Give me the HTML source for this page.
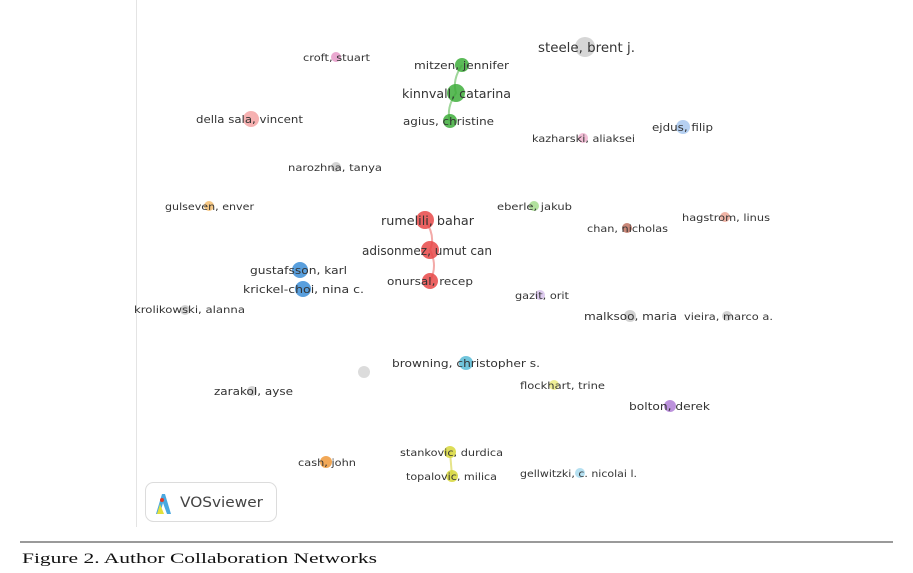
<!DOCTYPE html>
<html><head><meta charset="utf-8"><style>
html,body{margin:0;padding:0;background:#fff;width:913px;height:573px;overflow:hidden}
svg{display:block}
text{font-family:"DejaVu Sans","Liberation Sans",sans-serif;fill:#333}
</style></head><body>
<svg width="913" height="573" viewBox="0 0 913 573">
<line x1="136.5" y1="0" x2="136.5" y2="527" stroke="#e4e4e4" stroke-width="1"/>
<g stroke-width="2" fill="none">
<path d="M462 65 Q452 80 456 93 Q446 108 450 121" stroke="#9fd69a"/>
<path d="M425 220 Q436 236 430 250 Q438 266 430 281" stroke="#f3aaa8"/>
<line x1="450" y1="452" x2="452" y2="476" stroke="#e6e48a"/>
</g>
<g opacity="0.85">
<circle cx="336" cy="57" r="5" fill="#e79ac8"/>
<circle cx="462" cy="65" r="7" fill="#3fae3c"/>
<circle cx="585" cy="47" r="10" fill="#cfcfcf"/>
<circle cx="456" cy="93" r="9" fill="#3fae3c"/>
<circle cx="450" cy="121" r="7" fill="#3fae3c"/>
<circle cx="251" cy="119" r="8" fill="#f4a3a3"/>
<circle cx="583" cy="138" r="5" fill="#f0b3d0"/>
<circle cx="683" cy="127" r="7" fill="#a9c8ef"/>
<circle cx="336" cy="167" r="5" fill="#cccccc"/>
<circle cx="209" cy="206" r="5" fill="#f5bf70"/>
<circle cx="534" cy="206" r="5" fill="#a5dc8e"/>
<circle cx="425" cy="220" r="9" fill="#e84848"/>
<circle cx="725" cy="217" r="5" fill="#eea797"/>
<circle cx="627" cy="228" r="5" fill="#c17462"/>
<circle cx="430" cy="250" r="9" fill="#e84848"/>
<circle cx="300" cy="270" r="8" fill="#3d8fd8"/>
<circle cx="303" cy="289" r="8" fill="#3d8fd8"/>
<circle cx="430" cy="281" r="8" fill="#e84848"/>
<circle cx="540" cy="295" r="5" fill="#d8c3ec"/>
<circle cx="185" cy="310" r="5" fill="#cccccc"/>
<circle cx="630" cy="316" r="6" fill="#cccccc"/>
<circle cx="727" cy="316" r="5" fill="#cccccc"/>
<circle cx="364" cy="372" r="6" fill="#d6d6d6"/>
<circle cx="466" cy="363" r="7" fill="#59bcd6"/>
<circle cx="554" cy="385" r="5" fill="#eded84"/>
<circle cx="252" cy="391" r="5" fill="#cccccc"/>
<circle cx="670" cy="406" r="6" fill="#b07fd6"/>
<circle cx="450" cy="452" r="6" fill="#d8d83a"/>
<circle cx="326" cy="462" r="6" fill="#f09a3a"/>
<circle cx="452" cy="476" r="6" fill="#d8d83a"/>
<circle cx="580" cy="473" r="5" fill="#a9dbef"/>
</g>
<g font-size="10">
<text x="303" y="61" textLength="67" lengthAdjust="spacingAndGlyphs">croft, stuart</text>
<text x="414" y="69" font-size="11" textLength="95" lengthAdjust="spacingAndGlyphs">mitzen, jennifer</text>
<text x="538" y="52" font-size="13" textLength="97" lengthAdjust="spacingAndGlyphs">steele, brent j.</text>
<text x="402" y="98" font-size="12" textLength="109" lengthAdjust="spacingAndGlyphs">kinnvall, catarina</text>
<text x="403" y="125" font-size="11" textLength="91" lengthAdjust="spacingAndGlyphs">agius, christine</text>
<text x="196" y="123" font-size="11" textLength="107" lengthAdjust="spacingAndGlyphs">della sala, vincent</text>
<text x="532" y="142" textLength="103" lengthAdjust="spacingAndGlyphs">kazharski, aliaksei</text>
<text x="652" y="131" font-size="11" textLength="61" lengthAdjust="spacingAndGlyphs">ejdus, filip</text>
<text x="288" y="171" textLength="94" lengthAdjust="spacingAndGlyphs">narozhna, tanya</text>
<text x="165" y="210" textLength="89" lengthAdjust="spacingAndGlyphs">gulseven, enver</text>
<text x="497" y="210" textLength="75" lengthAdjust="spacingAndGlyphs">eberle, jakub</text>
<text x="381" y="225" font-size="12" textLength="93" lengthAdjust="spacingAndGlyphs">rumelili, bahar</text>
<text x="682" y="221" textLength="88" lengthAdjust="spacingAndGlyphs">hagstrom, linus</text>
<text x="587" y="232" textLength="81" lengthAdjust="spacingAndGlyphs">chan, nicholas</text>
<text x="362" y="255" font-size="12" textLength="130" lengthAdjust="spacingAndGlyphs">adisonmez, umut can</text>
<text x="250" y="274" font-size="11" textLength="97" lengthAdjust="spacingAndGlyphs">gustafsson, karl</text>
<text x="243" y="293" font-size="11" textLength="121" lengthAdjust="spacingAndGlyphs">krickel-choi, nina c.</text>
<text x="387" y="285" font-size="11" textLength="86" lengthAdjust="spacingAndGlyphs">onursal, recep</text>
<text x="515" y="299" textLength="54" lengthAdjust="spacingAndGlyphs">gazit, orit</text>
<text x="134" y="313" textLength="111" lengthAdjust="spacingAndGlyphs">krolikowski, alanna</text>
<text x="584" y="320" font-size="11" textLength="93" lengthAdjust="spacingAndGlyphs">malksoo, maria</text>
<text x="684" y="320" textLength="89" lengthAdjust="spacingAndGlyphs">vieira, marco a.</text>
<text x="392" y="367" font-size="11" textLength="148" lengthAdjust="spacingAndGlyphs">browning, christopher s.</text>
<text x="520" y="389" textLength="85" lengthAdjust="spacingAndGlyphs">flockhart, trine</text>
<text x="214" y="395" font-size="11" textLength="79" lengthAdjust="spacingAndGlyphs">zarakol, ayse</text>
<text x="629" y="410" font-size="11" textLength="81" lengthAdjust="spacingAndGlyphs">bolton, derek</text>
<text x="400" y="456" textLength="103" lengthAdjust="spacingAndGlyphs">stankovic, durdica</text>
<text x="298" y="466" textLength="58" lengthAdjust="spacingAndGlyphs">cash, john</text>
<text x="406" y="480" textLength="91" lengthAdjust="spacingAndGlyphs">topalovic, milica</text>
<text x="520" y="477" textLength="117" lengthAdjust="spacingAndGlyphs">gellwitzki, c. nicolai l.</text>
</g>
<rect x="145.5" y="482.5" width="131" height="39" rx="8" fill="#fff" stroke="#dcdcdc"/>
<g>
<path d="M156 514 L162 494 L165 494 L171 514 L167 514 L163 503 L160 514 Z" fill="#4aa8e0"/>
<path d="M157 514 L160 504 L164 514 Z" fill="#e3e03a"/>
<circle cx="162" cy="500" r="2" fill="#e03a2a"/>
</g>
<text x="180" y="507" font-size="14" fill="#444" style="fill:#444" textLength="83" lengthAdjust="spacingAndGlyphs">VOSviewer</text>
<line x1="20" y1="542" x2="893" y2="542" stroke="#9a9a9a" stroke-width="2"/>
<text x="22" y="563" font-size="15" style="font-family:'Liberation Serif',serif;fill:#111" textLength="355" lengthAdjust="spacingAndGlyphs">Figure 2. Author Collaboration Networks</text>
</svg>
</body></html>
